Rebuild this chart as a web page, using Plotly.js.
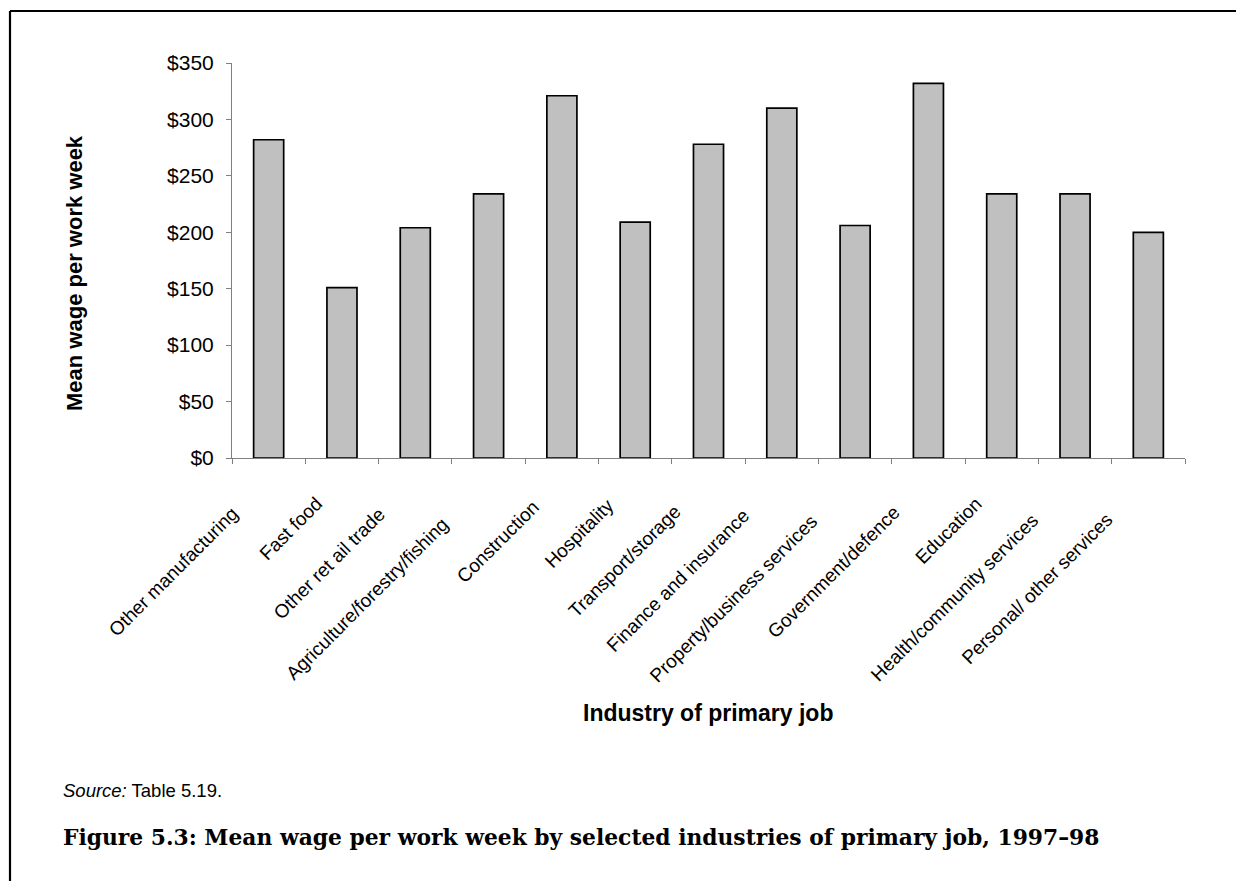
<!DOCTYPE html>
<html>
<head>
<meta charset="utf-8">
<script src="https://cdn.plot.ly/plotly-3.0.1.min.js"></script>
<style>
html,body{margin:0;padding:0;background:#fff;}
#chart{width:1236px;height:881px;}
</style>
</head>
<body>
<div id="chart"></div>
<script>
const industries = [
  "Other manufacturing", "Fast food", "Other ret ail trade", "Agriculture/forestry/fishing",
  "Construction", "Hospitality", "Transport/storage", "Finance and insurance",
  "Property/business services", "Government/defence", "Education",
  "Health/community services", "Personal/ other services"
];
const meanWage = [282, 151, 204, 234, 321, 209, 278, 310, 206, 332, 234, 234, 200];
const yTicks = [0, 50, 100, 150, 200, 250, 300, 350];
const yTickText = yTicks.map(v => '$' + v);

const L = 232, R = 1185, T = 63, B = 458, W = 1236, H = 881;
const pw = R - L, ph = B - T;
const px = x => (x - L) / pw;
const py = y => (B - y) / ph;
const SANS = 'Liberation Sans, Arial, sans-serif';

const trace = {
  type: 'bar',
  x: industries,
  y: meanWage,
  width: 0.41,
  marker: {color: '#c0c0c0', line: {color: '#000000', width: 1.7}},
  hoverinfo: 'x+y'
};

// Category labels, rotated like the spreadsheet's; longer labels sit further down the diagonal
const labelAnnotations = industries.map((name, i) => {
  const s = Math.max(0, 0.13 * name.length * 8.3 - 10);
  return {
    xref: 'x', yref: 'paper', x: i, y: py(490),
    xanchor: 'right', yanchor: 'top',
    xshift: -13 - s, yshift: -s,
    textangle: -45, showarrow: false,
    text: name,
    font: {size: 19, family: SANS, color: '#000'}
  };
});

const layout = {
  width: W, height: H,
  margin: {l: L, r: W - R, t: T, b: H - B, pad: 0},
  paper_bgcolor: '#ffffff', plot_bgcolor: '#ffffff',
  showlegend: false,
  font: {family: SANS, color: '#000000'},
  xaxis: {
    type: 'category',
    categoryorder: 'array',
    categoryarray: industries,
    range: [-0.5, industries.length - 0.5],
    autorange: false,
    showgrid: false, zeroline: false,
    showline: true, linecolor: '#808080', linewidth: 1,
    ticks: 'outside', ticklen: 5, tickcolor: '#808080', tickwidth: 1,
    tickson: 'boundaries',
    showticklabels: false,
    automargin: false
  },
  yaxis: {
    range: [0, 350],
    autorange: false,
    tickmode: 'array',
    tickvals: yTicks,
    ticktext: yTickText,
    showgrid: false, zeroline: false,
    showline: true, linecolor: '#808080', linewidth: 1,
    ticks: 'outside', ticklen: 5, tickcolor: '#808080', tickwidth: 1,
    tickfont: {size: 21, family: SANS, color: '#000'},
    ticklabelstandoff: 8,
    automargin: false
  },
  annotations: labelAnnotations.concat([
    {xref: 'paper', yref: 'paper', x: px(74), y: py(273), xanchor: 'center', yanchor: 'middle',
     textangle: -90, showarrow: false,
     text: '<b>Mean wage per work week</b>',
     font: {size: 22, family: SANS, color: '#000'}},
    {xref: 'paper', yref: 'paper', x: px(708), y: py(713), xanchor: 'center', yanchor: 'middle',
     showarrow: false,
     text: '<b>Industry of primary job</b>',
     font: {size: 23, family: SANS, color: '#000'}},
    {xref: 'paper', yref: 'paper', x: px(61), y: py(790), xanchor: 'left', yanchor: 'middle',
     showarrow: false,
     text: '<i>Source:</i> Table 5.19.',
     font: {size: 18.5, family: SANS, color: '#000'}},
    {xref: 'paper', yref: 'paper', x: px(61), y: py(837), xanchor: 'left', yanchor: 'middle',
     showarrow: false,
     text: '<b>Figure 5.3: Mean wage per work week by selected industries of primary job, 1997–98</b>',
     font: {size: 21.8, family: 'DejaVu Serif, serif', color: '#000'}}
  ]),
  shapes: [
    {type: 'line', xref: 'paper', yref: 'paper', x0: px(10), x1: px(1236), y0: py(11), y1: py(11),
     line: {color: '#000', width: 2.2}},
    {type: 'line', xref: 'paper', yref: 'paper', x0: px(10), x1: px(10), y0: py(11), y1: py(881),
     line: {color: '#000', width: 2.2}}
  ]
};

Plotly.newPlot('chart', [trace], layout, {staticPlot: true, displayModeBar: false});
</script>
</body>
</html>
